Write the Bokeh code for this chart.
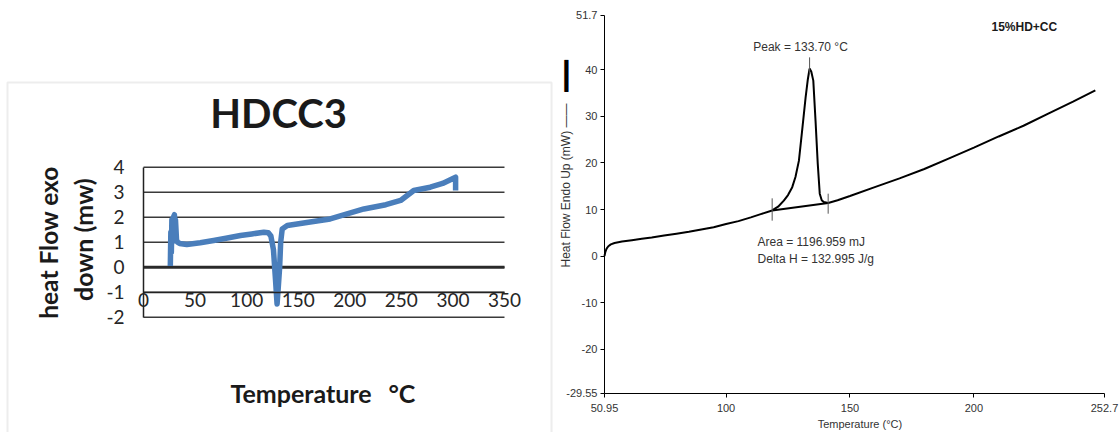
import math
from bokeh.plotting import figure
from bokeh.layouts import row
from bokeh.models import Range1d, FixedTicker, Label, PolyAnnotation
from bokeh.embed import file_html
from bokeh.resources import INLINE

# ---------------- Left chart: HDCC3 (Excel style) ----------------
hd_temp = [26, 26.5, 27, 27.5, 28, 29, 30, 30.5, 31, 32, 33, 35, 42, 55, 68, 80, 94, 105,
           116.7, 121, 123.5, 126, 128, 129.5, 130.5, 132, 133, 134.5, 139.4, 160, 181,
           213.7, 235, 249.3, 262, 278, 290, 302.6, 302.6]
hd_flow = [0.05, 1.4, 0.6, 1.9, 1.0, 2.0, 2.1, 1.3, 1.9, 1.1, 1.0, 0.95, 0.91, 0.98, 1.07,
           1.16, 1.27, 1.33, 1.4, 1.38, 1.25, 0.7, -0.5, -1.47, -0.9, 0.0, 1.0, 1.53, 1.67,
           1.8, 1.93, 2.33, 2.5, 2.67, 3.07, 3.2, 3.35, 3.6, 3.07]
hd_xticks = [0, 50, 100, 150, 200, 250, 300, 350]
hd_yticks = [-2, -1, 0, 1, 2, 3, 4]
hd_title = "HDCC3"
hd_ytitle = ["heat Flow exo", "down (mw)"]
hd_xtitle = ["Temperature", "\u00b0C"]

# ---------------- Right chart: DSC 15%HD+CC ----------------
dsc_temp = [50.95, 51.3, 51.8, 52.5, 53.5, 55, 58, 62, 66, 70, 75, 80, 85, 90, 95, 100, 105,
            110, 114, 118.6, 121, 123.3, 125, 126.7, 128, 129.4, 130.7, 132.1, 133, 133.7,
            134.4, 135.2, 136.1, 137.0, 137.8, 138.6, 139.4, 141.2, 145, 150, 160, 170, 180,
            190, 200, 210, 220, 230, 240, 249]
dsc_flow = [0, 0.9, 1.6, 2.1, 2.5, 2.8, 3.1, 3.4, 3.7, 4.0, 4.4, 4.8, 5.2, 5.7, 6.2, 6.9, 7.5,
            8.3, 9.0, 9.8, 10.6, 11.9, 13.1, 14.8, 17.0, 20.5, 27.0, 34.1, 38.0, 40.3,
            39.6, 37.7, 29.1, 19.8, 13.4, 12.0, 11.6, 11.4, 12.0, 12.9, 14.8, 16.7, 18.7,
            21.0, 23.3, 25.7, 28.0, 30.6, 33.2, 35.6]
dsc_xticks = [50.95, 100, 150, 200, 252.7]
dsc_yticks = [-29.55, -20, -10, 0, 10, 20, 30, 40, 51.7]
onset_temp, onset_flow = 118.6, 9.8
end_temp, end_flow = 141.2, 11.4
peak_temp, peak_flow = 133.7, 40.3
peak_text = "Peak = 133.70 \u00b0C"
area_text = "Area = 1196.959 mJ"
dh_text = "Delta H = 132.995 J/g"
sample_text = "15%HD+CC"

CAL = "Lato"
ARIAL = "Liberation Sans"

# ---------- left figure (frame covers the whole canvas; axes placed inside) ----------
p1 = figure(width=553, height=432, x_range=Range1d(-138.65, 397.52), y_range=Range1d(-6.612, 10.668),
            output_backend="svg", toolbar_location=None,
            min_border_left=0, min_border_right=0, min_border_top=0, min_border_bottom=0)
p1.outline_line_color = None
p1.grid.visible = False

# gridlines across the plot area
p1.segment(x0=[hd_xticks[0]] * len(hd_yticks), x1=[hd_xticks[-1]] * len(hd_yticks),
           y0=hd_yticks, y1=hd_yticks, line_color="#3a3a3a", line_width=1.5)
p1.segment(x0=[hd_xticks[0]], x1=[hd_xticks[-1]], y0=[0], y1=[0], line_color="#2a2a2a", line_width=3)

p1.yaxis.ticker = FixedTicker(ticks=hd_yticks)
p1.yaxis.major_label_overrides = {t: str(t) for t in hd_yticks}
p1.yaxis.fixed_location = hd_xticks[0]
p1.yaxis.bounds = (hd_yticks[0], hd_yticks[-1])
p1.xaxis.ticker = FixedTicker(ticks=hd_xticks)
p1.xaxis.major_label_overrides = {t: str(t) for t in hd_xticks}
p1.xaxis.fixed_location = -1
p1.xaxis.bounds = (hd_xticks[0], hd_xticks[-1])
for ax in (p1.xaxis[0], p1.yaxis[0]):
    ax.major_tick_out = 0
    ax.major_tick_in = 0
    ax.minor_tick_out = 0
    ax.minor_tick_in = 0
    ax.axis_line_color = "#222222"
    ax.axis_line_width = 1.5
    ax.major_label_text_font = CAL
    ax.major_label_text_font_size = "19px"
    ax.major_label_text_color = "#262626"
p1.yaxis.major_label_standoff = 19
p1.xaxis.major_label_standoff = 1

p1.line(hd_temp, hd_flow, line_width=5.5, line_color="#4a7ebb", line_join="round")

p1.add_layout(PolyAnnotation(xs=[-131.86, -131.86, 395.6, 395.6], ys=[-7.5, 7.388, 7.388, -7.5],
                             fill_alpha=0, line_color="#c4c4c4", line_width=2))
p1.add_layout(Label(x=130.9, y=6.17, text=hd_title, text_font=CAL, text_font_style="bold",
                    text_font_size="40px", text_align="center", text_baseline="middle",
                    text_color="#1a1a1a"))
p1.add_layout(Label(x=-92.1, y=0.99, text=hd_ytitle[0], text_font=CAL, text_font_style="bold",
                    text_font_size="24.5px", text_align="center", text_baseline="middle",
                    angle=math.pi / 2, text_color="#1a1a1a"))
p1.add_layout(Label(x=-59.1, y=1.1, text=hd_ytitle[1], text_font=CAL, text_font_style="bold",
                    text_font_size="25px", text_align="center", text_baseline="middle",
                    angle=math.pi / 2, text_color="#1a1a1a"))
p1.add_layout(Label(x=84.3, y=-5.05, text=hd_xtitle[0], text_font=CAL, text_font_style="bold",
                    text_font_size="25px", text_align="left", text_baseline="middle",
                    text_color="#1a1a1a"))
p1.add_layout(Label(x=237.5, y=-5.05, text=hd_xtitle[1], text_font=CAL, text_font_style="bold",
                    text_font_size="25px", text_align="left", text_baseline="middle",
                    text_color="#1a1a1a"))

# ---------- right figure ----------
p2 = figure(width=566, height=432, x_range=Range1d(30.372, 258.75), y_range=Range1d(-37.933, 54.924),
            output_backend="svg", toolbar_location=None,
            min_border_left=0, min_border_right=0, min_border_top=0, min_border_bottom=0)
p2.outline_line_color = None
p2.grid.visible = False
p2.xaxis.ticker = FixedTicker(ticks=dsc_xticks)
p2.xaxis.major_label_overrides = {t: str(t) for t in dsc_xticks}
p2.xaxis.fixed_location = dsc_yticks[0]
p2.xaxis.bounds = (dsc_xticks[0], dsc_xticks[-1])
p2.yaxis.ticker = FixedTicker(ticks=dsc_yticks)
p2.yaxis.major_label_overrides = {t: str(t) for t in dsc_yticks}
p2.yaxis.fixed_location = dsc_xticks[0]
p2.yaxis.bounds = (dsc_yticks[0], dsc_yticks[-1])
for ax in (p2.xaxis[0], p2.yaxis[0]):
    ax.major_tick_out = 4
    ax.major_tick_in = 0
    ax.minor_tick_out = 0
    ax.minor_tick_in = 0
    ax.axis_line_color = "black"
    ax.major_tick_line_color = "black"
    ax.major_label_text_font = ARIAL
    ax.major_label_text_font_size = "11px"
    ax.major_label_text_color = "#333333"
p2.yaxis.major_label_standoff = 3
p2.xaxis.major_label_standoff = 7

p2.line(dsc_temp, dsc_flow, line_width=2, line_color="black")
p2.line([onset_temp, end_temp], [onset_flow, end_flow], line_width=2, line_color="black")
p2.segment(x0=[onset_temp, end_temp, peak_temp],
           y0=[onset_flow - 2.2, end_flow - 2.3, peak_flow - 1.1],
           x1=[onset_temp, end_temp, peak_temp],
           y1=[onset_flow + 2.6, end_flow + 2.0, peak_flow + 2.4],
           line_color="#555555", line_width=1)

p2.add_layout(Label(x=130.05, y=45.0, text=peak_text, text_font=ARIAL, text_font_size="12px",
                    text_align="center", text_baseline="middle", text_color="#333333"))
p2.add_layout(Label(x=112.7, y=3.0, text=area_text, text_font=ARIAL, text_font_size="12px",
                    text_align="left", text_baseline="middle", text_color="#333333"))
p2.add_layout(Label(x=112.7, y=-0.6, text=dh_text, text_font=ARIAL, text_font_size="12px",
                    text_align="left", text_baseline="middle", text_color="#333333"))
p2.add_layout(Label(x=207.1, y=49.3, text=sample_text, text_font=ARIAL, text_font_style="bold",
                    text_font_size="12px", text_align="left", text_baseline="middle",
                    text_color="#1a1a1a"))
p2.add_layout(Label(x=35.6, y=-2.47, text="Heat Flow Endo Up (mW) \u2014\u2014", text_font=ARIAL,
                    text_font_size="12px", text_align="left", text_baseline="middle",
                    angle=math.pi / 2, text_color="#333333"))
p2.add_layout(Label(x=35.6, y=38.9, text="\u2503", text_font="DejaVu Sans",
                    text_font_size="27px", text_align="center", text_baseline="middle",
                    text_color="black"))
p2.add_layout(Label(x=154.0, y=-36.0, text="Temperature (\u00b0C)", text_font=ARIAL,
                    text_font_size="11px", text_align="center", text_baseline="middle",
                    text_color="#333333"))

layout = row(p1, p2)
open("out.html", "w").write(file_html(layout, INLINE))
